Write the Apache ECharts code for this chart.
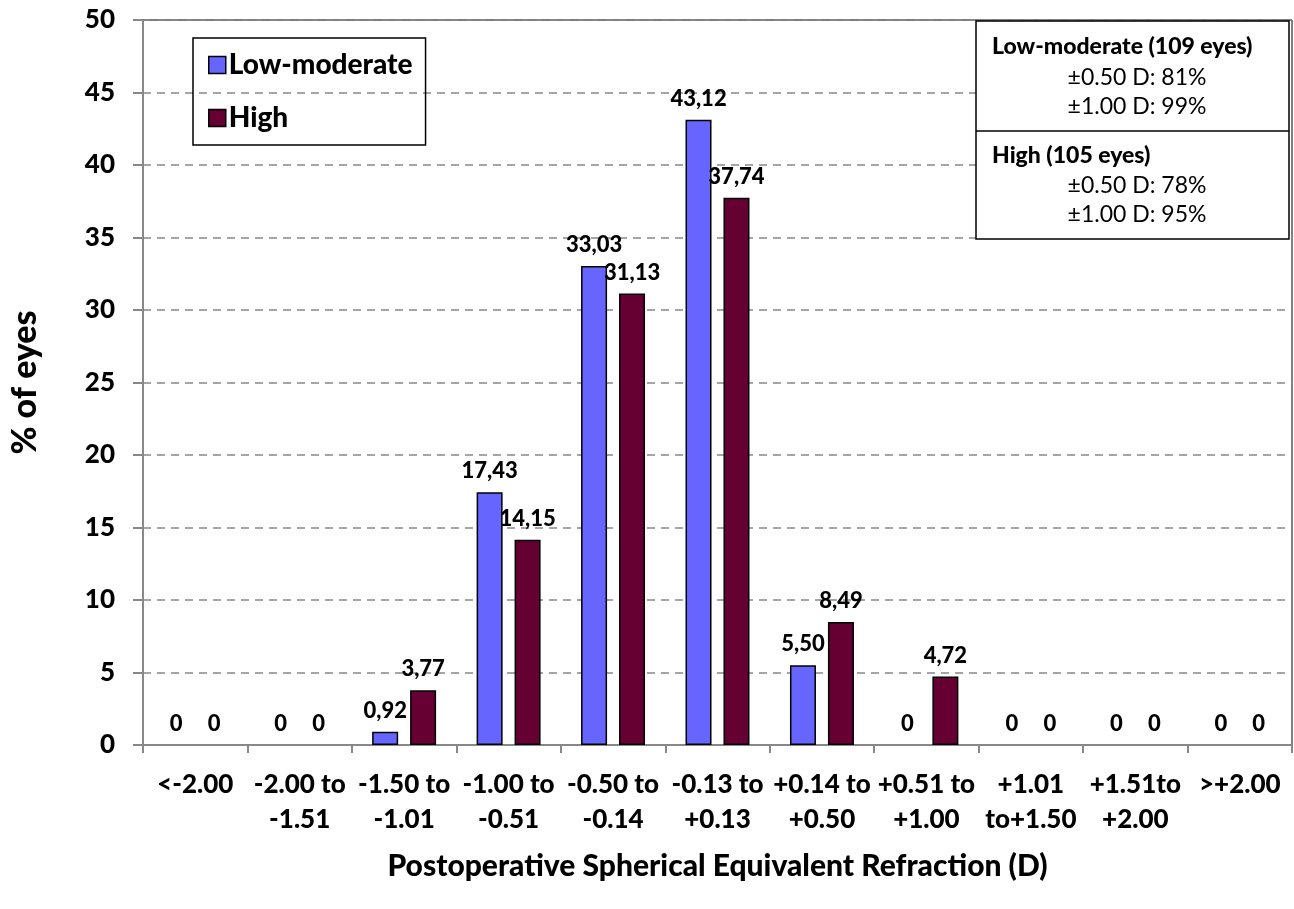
<!DOCTYPE html>
<html><head><meta charset="utf-8">
<script src="https://cdn.jsdelivr.net/npm/echarts@6/dist/echarts.min.js"></script>
<style>html,body{margin:0;padding:0;background:#fff}#c{width:1294px;height:909px}</style>
</head><body><div id="c"></div>
<script>
const categories = ['<-2.00','-2.00 to\n-1.51','-1.50 to\n-1.01','-1.00 to\n-0.51','-0.50 to\n-0.14','-0.13 to\n+0.13','+0.14 to\n+0.50','+0.51 to\n+1.00','+1.01\nto+1.50','+1.51to\n+2.00','>+2.00'];
const lowModerate = [0,0,0.92,17.43,33.03,43.12,5.50,0,0,0,0];
const high = [0,0,3.77,14.15,31.13,37.74,8.49,4.72,0,0,0];
const seriesNames = ['Low-moderate','High'];
const yTicks = {min:0,max:50,interval:5};
const boxLines = [
  ['Low-moderate (109 eyes)','±0.50 D: 81%','±1.00 D: 99%'],
  ['High (105 eyes)','±0.50 D: 78%','±1.00 D: 95%']
];
const F = 'Lato, "Open Sans", sans-serif';
const W = 900;
const fmt = p => p.value === 0 ? '0' : p.value.toFixed(2).replace('.',',');
const toItems = arr => arr.map(v => ({value:v, itemStyle:{borderWidth: v === 0 ? 0 : 1.5}}));
const chart = echarts.init(document.getElementById('c'), null, {renderer:'canvas'});
const labelCfg = {show:true,position:'top',distance:10,formatter:fmt,fontFamily:F,fontWeight:W,fontSize:22,color:'#000'};
chart.setOption({
  animation:false,
  grid:{left:143,right:2,top:20,bottom:164,show:true,borderColor:'#000',borderWidth:1},
  legend:{left:193,top:38,orient:'vertical',itemWidth:17,itemHeight:17,itemGap:25,
    padding:[13,13,13,15],borderColor:'#000',borderWidth:1.5,icon:'rect',
    itemStyle:{borderWidth:1.5,borderColor:'#000'},
    textStyle:{fontFamily:F,fontWeight:W,fontSize:28,color:'#000',padding:[0,0,0,-2]},
    data:seriesNames},
  xAxis:{type:'category',data:categories,
    name:'Postoperative Spherical Equivalent Refraction (D)',nameLocation:'middle',nameGap:106,
    nameTextStyle:{fontFamily:F,fontWeight:W,fontSize:30,color:'#000'},
    axisLine:{lineStyle:{color:'#888',width:2}},
    axisTick:{show:true,length:8,lineStyle:{color:'#888',width:2}},
    axisLabel:{interval:0,margin:22,fontFamily:F,fontWeight:W,fontSize:26,lineHeight:35,color:'#000'}},
  yAxis:{type:'value',min:yTicks.min,max:yTicks.max,interval:yTicks.interval,
    name:'% of eyes',nameLocation:'middle',nameGap:101,nameRotate:90,
    nameTextStyle:{fontFamily:F,fontWeight:W,fontSize:34,color:'#000'},
    axisLine:{show:true,lineStyle:{color:'#888',width:2}},
    axisTick:{show:true,length:10,lineStyle:{color:'#888',width:2}},
    axisLabel:{margin:28,fontFamily:F,fontWeight:W,fontSize:26,color:'#000'},
    splitLine:{show:true,lineStyle:{color:'#888',type:[8,6],width:1.5}}},
  series:[
    {name:seriesNames[0],type:'bar',data:toItems(lowModerate),barWidth:26,barGap:'46%',
     itemStyle:{color:'#6666FF',borderColor:'#000',borderWidth:1.5},label:labelCfg},
    {name:seriesNames[1],type:'bar',data:toItems(high),barWidth:26,
     itemStyle:{color:'#660033',borderColor:'#000',borderWidth:1.5},label:labelCfg}
  ],
  graphic:[
    {type:'rect',shape:{x:976,y:21,width:313,height:218},style:{fill:'#fff',stroke:'#000',lineWidth:1.5},z:100},
    {type:'line',shape:{x1:976,y1:131,x2:1289,y2:131},style:{stroke:'#000',lineWidth:1.5},z:101},
    {type:'text',x:992,y:47,style:{text:boxLines[0][0],fontFamily:F,fontWeight:W,fontSize:23,fill:'#000',textVerticalAlign:'middle'},z:101},
    {type:'text',x:1137,y:78,style:{text:boxLines[0][1],fontFamily:F,fontSize:23,fill:'#000',textAlign:'center',textVerticalAlign:'middle'},z:101},
    {type:'text',x:1137,y:107,style:{text:boxLines[0][2],fontFamily:F,fontSize:23,fill:'#000',textAlign:'center',textVerticalAlign:'middle'},z:101},
    {type:'text',x:992,y:156,style:{text:boxLines[1][0],fontFamily:F,fontWeight:W,fontSize:23,fill:'#000',textVerticalAlign:'middle'},z:101},
    {type:'text',x:1137,y:186,style:{text:boxLines[1][1],fontFamily:F,fontSize:23,fill:'#000',textAlign:'center',textVerticalAlign:'middle'},z:101},
    {type:'text',x:1137,y:215,style:{text:boxLines[1][2],fontFamily:F,fontSize:23,fill:'#000',textAlign:'center',textVerticalAlign:'middle'},z:101}
  ]
});
</script></body></html>
